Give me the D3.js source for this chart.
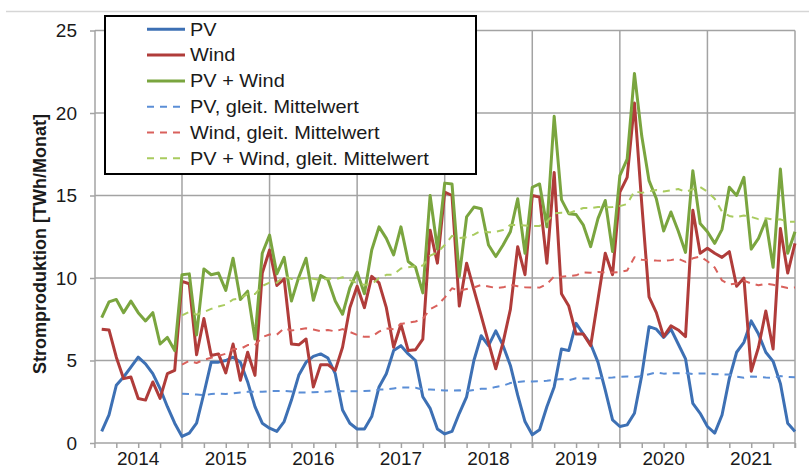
<!DOCTYPE html>
<html><head><meta charset="utf-8">
<script src="https://cdn.jsdelivr.net/npm/d3@7"></script>
<style>
body{margin:0;background:#fff}
svg{display:block}
text{font-family:"Liberation Sans",Arial,sans-serif;fill:#1a1a1a}
</style>
</head><body>
<svg id="c" width="809" height="469"></svg>
<script>
// ---------- data ----------
const years = ["2014","2015","2016","2017","2018","2019","2020","2021"];
const yTicks = [0, 5, 10, 15, 20, 25];
// monthly values Jan 2014 .. Dec 2021 (TWh/Monat)
const pv = [
  0.7, 1.7, 3.5, 4.0, 4.6, 5.2, 4.8, 4.2, 3.3, 2.2, 1.2, 0.4,
  0.6, 1.2, 3.0, 4.9, 4.9, 5.0, 5.2, 4.9, 3.7, 2.2, 1.2, 0.9,
  0.7, 1.3, 2.6, 4.1, 4.9, 5.25, 5.4, 5.15, 4.2, 2.0, 1.2, 0.85,
  0.85, 1.6, 3.4, 4.2, 5.6, 5.9, 5.4, 5.0, 2.8, 2.1, 0.85, 0.55,
  0.7, 1.8, 2.8, 5.0, 6.5, 5.9, 6.8, 5.9, 4.7, 2.9, 1.3, 0.5,
  0.8, 2.2, 3.4, 5.7, 5.6, 7.25, 6.6, 6.0, 4.9, 3.2, 1.4, 1.0,
  1.1, 1.8, 4.1, 7.05, 6.9, 6.4, 6.9, 6.0, 5.1, 2.4, 1.8, 1.0,
  0.6, 1.7, 3.9, 5.5, 6.1, 7.4, 6.6, 5.5, 4.95, 3.6, 1.2, 0.7
];
const wind = [
  6.9, 6.85, 5.2, 3.9, 4.0, 2.7, 2.6, 3.7, 2.7, 4.2, 4.4, 9.8,
  9.65, 5.35, 7.55, 5.3, 5.4, 4.25, 6.0, 3.8, 5.5, 4.1, 10.3, 11.7,
  9.55, 9.95, 6.0, 5.95, 6.3, 3.4, 4.75, 4.75, 4.4, 5.8, 8.2, 9.5,
  8.2, 10.1, 9.7, 8.2, 5.8, 7.2, 5.6, 5.65, 6.3, 12.9, 10.9, 15.2,
  15.0, 8.3, 10.9, 9.3, 7.7, 6.1, 4.5, 6.1, 8.1, 11.9, 10.2, 15.0,
  14.9, 10.9, 16.4, 9.05, 8.3, 6.6, 6.6, 5.9, 8.7, 11.5, 10.2, 15.2,
  16.1, 20.6, 14.5, 8.85, 7.9, 6.45, 7.1, 6.85, 6.45, 14.1, 11.5, 11.8,
  11.5, 11.25, 11.6, 9.5, 10.0, 4.35, 5.8, 8.0, 5.7, 13.0, 10.3, 12.1
];
const legendLabels = ["PV", "Wind", "PV + Wind", "PV, gleit. Mittelwert",
  "Wind, gleit. Mittelwert", "PV + Wind, gleit. Mittelwert"];
const yTitle = "Stromproduktion [TWh/Monat]";

// derived series: sum and 12-month moving average
const pvWind = pv.map((v, i) => v + wind[i]);
const movAvg = arr => arr.map((v, i) => i < 11 ? null : d3.mean(arr.slice(i - 11, i + 1)));

// ---------- styles ----------
const colors = {pv:"#3d70b4", wind:"#b03c3a", sum:"#7aa53f",
                pvMA:"#5b8ed6", windMA:"#d9615c", sumMA:"#a9cb5f"};
const series = [
  {vals: pv, color: colors.pv, dash: null, w: 3},
  {vals: wind, color: colors.wind, dash: null, w: 3},
  {vals: pvWind, color: colors.sum, dash: null, w: 3},
  {vals: movAvg(pv), color: colors.pvMA, dash: "7,6", w: 2},
  {vals: movAvg(wind), color: colors.windMA, dash: "7,6", w: 2},
  {vals: movAvg(pvWind), color: colors.sumMA, dash: "7,6", w: 2}
];

const svg = d3.select("#c");
const L = 95, R = 795, T = 30.5, B = 443;
const x = d3.scaleLinear().domain([-0.92, 95]).range([L, R]);
const y = d3.scaleLinear().domain([0, 25]).range([B, T]);
const grid = "#a3a3a3";

// top decorative line
svg.append("line").attr("x1", 6).attr("x2", 809).attr("y1", 11.5).attr("y2", 11.5)
  .attr("stroke", "#d6d6d6").attr("stroke-width", 1.5);

// horizontal gridlines
svg.append("g").selectAll("line").data(yTicks.slice(1)).join("line")
  .attr("x1", L).attr("x2", R).attr("y1", d => y(d)).attr("y2", d => y(d))
  .attr("stroke", grid).attr("stroke-width", 1.5);

// vertical year gridlines
const yearBounds = years.map((d, k) => 11 + 12 * k);
svg.append("g").selectAll("line").data(yearBounds).join("line")
  .attr("x1", d => x(d)).attr("x2", d => x(d)).attr("y1", T).attr("y2", B + 5)
  .attr("stroke", grid).attr("stroke-width", 1.5);

// x axis with quarter ticks
const qTicks = d3.range(-1, 96, 3);
const xAxis = svg.append("g").attr("transform", `translate(0,${B})`)
  .call(d3.axisBottom(x).tickValues(qTicks).tickSize(5).tickFormat(""));
xAxis.select(".domain").attr("stroke", grid).attr("stroke-width", 1.5).attr("d", `M${L},0H${R}`);
xAxis.selectAll(".tick line").attr("stroke", grid).attr("stroke-width", 1.5);

// year labels
svg.append("g").selectAll("text").data(years).join("text")
  .attr("x", (d, k) => x(12 * k + 5)).attr("y", 465)
  .attr("text-anchor", "middle").attr("font-size", 19).text(d => d);

// y axis
const yAxis = svg.append("g").attr("transform", `translate(${L},0)`)
  .call(d3.axisLeft(y).tickValues(yTicks).tickSize(5).tickPadding(13));
yAxis.select(".domain").attr("stroke", grid).attr("stroke-width", 1.5).attr("d", `M0,${B}V${T}`);
yAxis.selectAll(".tick line").attr("stroke", grid).attr("stroke-width", 1.5);
yAxis.selectAll(".tick text").attr("font-size", 19).attr("font-family", '"Liberation Sans",Arial,sans-serif')
  .attr("fill", "#1a1a1a");

// y title
svg.append("text").attr("transform", "translate(46,244) rotate(-90)")
  .attr("text-anchor", "middle").attr("font-size", 18).attr("font-weight", "bold").text(yTitle);

// lines
const line = d3.line().defined(d => d != null).x((d, i) => x(i)).y(d => y(d));
svg.append("g").selectAll("path").data(series).join("path")
  .attr("d", s => line(s.vals)).attr("fill", "none")
  .attr("stroke", s => s.color).attr("stroke-width", s => s.w)
  .attr("stroke-dasharray", s => s.dash).attr("stroke-linejoin", "round");

// legend
const lg = svg.append("g");
lg.append("rect").attr("x", 105).attr("y", 16).attr("width", 371).attr("height", 158)
  .attr("fill", "#fff").attr("stroke", "#000").attr("stroke-width", 2);
const rows = lg.selectAll("g.row").data(series).join("g")
  .attr("transform", (d, k) => `translate(0,${29.3 + 25.8 * k})`);
rows.append("line").attr("x1", 147).attr("x2", 185).attr("y1", 0).attr("y2", 0)
  .attr("stroke", s => s.color).attr("stroke-width", s => s.w)
  .attr("stroke-dasharray", s => s.dash);
rows.append("text").attr("transform", "translate(190,6.3) scale(1.14,1)")
  .attr("font-size", 17.5).text((d, k) => legendLabels[k]);
</script>
</body></html>
